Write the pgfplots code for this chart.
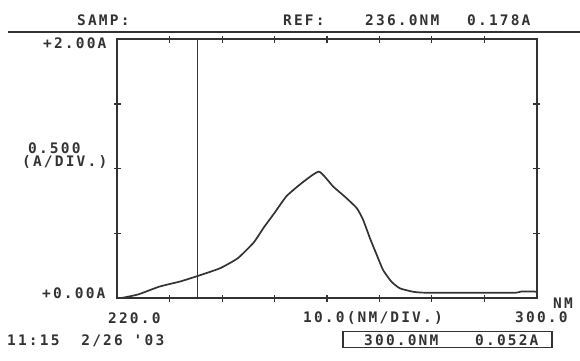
\documentclass[border=0pt]{standalone}
\usepackage{pgfplots}
\pgfplotsset{compat=1.18}
\usepackage{fontspec}
\newfontfamily\lcd[LetterSpace=15]{DejaVu Sans Mono Bold}
\definecolor{ink}{HTML}{333333}
\begin{document}
\begin{tikzpicture}[x=1bp,y=1bp]
\path[use as bounding box] (0,0) rectangle (580,360);
% header rule
\draw[ink, line width=1.8bp] (8,328.3) -- (580,328.3);
\begin{axis}[
  at={(117.3bp,61.7bp)}, anchor=south west,
  scale only axis, width=419.4bp, height=259bp,
  xmin=220, xmax=300, ymin=0, ymax=2,
  xtick={230,240,...,290}, ytick={0.5,1,1.5},
  xticklabels={}, yticklabels={},
  tick align=center, major tick length=7bp,
  tick style={ink, line width=1.2bp},
  axis line style={ink, line width=1.8bp},
]
\addplot[ink, line width=1.6bp] coordinates {(235.3,0) (235.3,2)};
\addplot[ink, line width=1.7bp, smooth, tension=0.3] coordinates {
(220.5,0.0) (224,0.03) (228,0.09) (232,0.13) (235.3,0.172) (239.6,0.232)
(243,0.31) (246,0.43) (248,0.55) (250,0.66) (252.3,0.79) (255.5,0.90)
(258.5,0.978) (261.2,0.862) (263.4,0.785) (265.7,0.695) (266.9,0.605)
(268.2,0.463) (269.5,0.334) (270.7,0.218) (272.3,0.128) (273.9,0.077)
(276.5,0.050) (279,0.043) (290,0.043) (296,0.043) (297,0.052) (299.5,0.052) (300,0.05)};
\end{axis}
\begin{scope}[every node/.style={inner sep=0pt, anchor=base west, text=ink, font=\lcd\fontsize{14.5bp}{16bp}\selectfont}]
\node at (77,334.5) {SAMP:};
\node at (283,334.5) {REF:};
\node at (365,334.5) {236.0NM};
\node at (467,334.5) {0.178A};
\node at (43,312) {+2.00A};
\node at (28,206.5) {0.500};
\node at (22,193.5) {(A/DIV.)};
\node at (42,61.5) {+0.00A};
\node at (108,37) {220.0};
\node at (303,38) {10.0(NM/DIV.)};
\node at (515,38) {300.0};
\node at (553,51.5) {NM};
\node at (7,15) {11:15\ \ 2/26 '03};
\node at (364,15) {300.0NM};
\node at (475,15) {0.052A};
\end{scope}
\draw[ink, line width=1.4bp] (343,12.5) rectangle (552,28.5);
\end{tikzpicture}
\end{document}
